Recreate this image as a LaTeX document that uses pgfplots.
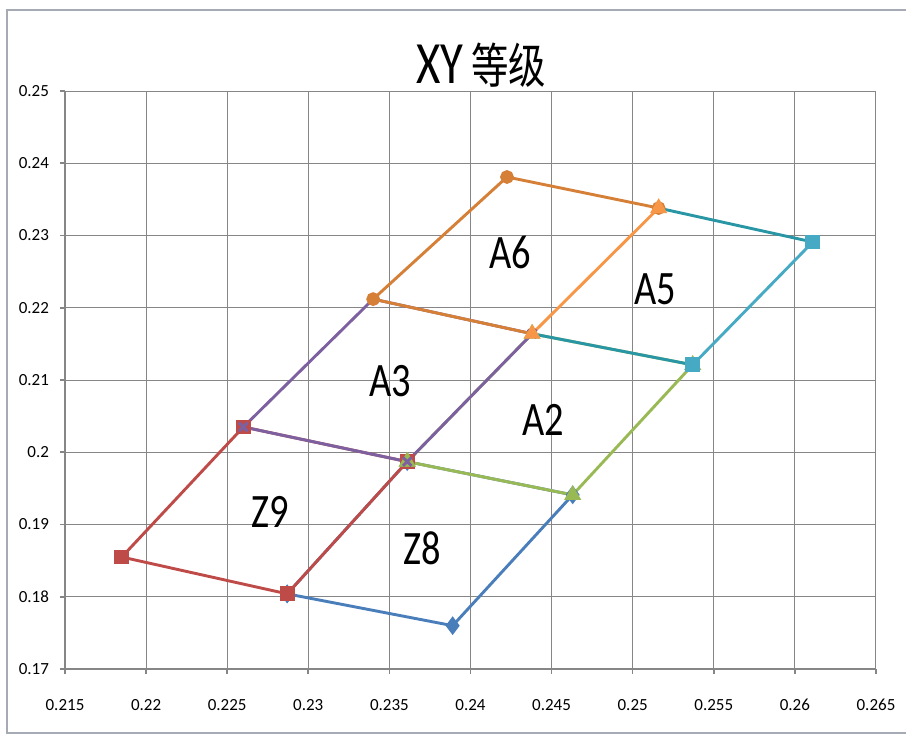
\documentclass[border=0pt]{standalone}
\usepackage{pgfplots}
\pgfplotsset{compat=1.18}
\usepackage{fontspec}
\setmainfont{Carlito}
\newfontfamily\cjk{Noto Sans CJK SC}
\definecolor{zeight}{RGB}{74,126,187}
\definecolor{znine}{RGB}{190,75,72}
\definecolor{atwo}{RGB}{152,185,84}
\definecolor{athree}{RGB}{125,96,160}
\definecolor{afive}{RGB}{70,170,197}
\definecolor{afivedk}{RGB}{40,150,165}
\definecolor{asix}{RGB}{213,127,55}
\definecolor{asixlt}{RGB}{247,150,70}
\definecolor{gridgray}{RGB}{134,134,134}

\begin{document}
\begin{tikzpicture}
\useasboundingbox (0,0) rectangle (453pt,368pt);
\draw[draw={rgb,255:red,165;green,170;blue,180},line width=0.8pt] (3.5pt,1.5pt) rectangle (470pt,363pt);
\begin{axis}[at={(32.5pt,33.5pt)},anchor=south west,scale only axis,width=405.5pt,height=289pt,
  xmin=0.215,xmax=0.265,ymin=0.17,ymax=0.25,
  xtick={0.215,0.22,0.225,0.23,0.235,0.24,0.245,0.25,0.255,0.26,0.265},
  xticklabels={0.215,0.22,0.225,0.23,0.235,0.24,0.245,0.25,0.255,0.26,0.265},
  ytick={0.17,0.18,0.19,0.2,0.21,0.22,0.23,0.24,0.25},
  yticklabels={0.17,0.18,0.19,0.2,0.21,0.22,0.23,0.24,0.25},
  scaled ticks=false,
  grid=major,grid style={gridgray,line width=0.5pt},
  axis line style={gridgray,line width=0.8pt},
  axis x line*=bottom,axis y line*=left,
  tick style={gridgray,line width=0.8pt},
  tick align=outside,major tick length=2.5pt,
  ticklabel style={font=\fontsize{8.5}{10}\selectfont},
  xticklabel style={yshift=-9pt},
  yticklabel style={xshift=-2pt},
  clip=false,
  every axis plot/.append style={line width=1.45pt}]
% Z8
\addplot[zeight,mark=diamond*,mark size=3.5pt] coordinates {(0.2287,0.1804) (0.2389,0.1760) (0.2463,0.1941) (0.2361,0.1987) (0.2287,0.1804)};
% Z9
\addplot[znine,mark=square*,mark size=3pt] coordinates {(0.2185,0.1855) (0.2287,0.1804) (0.2361,0.1987) (0.2260,0.2035) (0.2185,0.1855)};
% A2
\addplot[atwo,mark=triangle*,mark size=3.5pt] coordinates {(0.2361,0.1987) (0.2463,0.1941) (0.2537,0.2121) (0.2438,0.2164) (0.2361,0.1987)};
% A3
\addplot[athree,mark=x,mark size=3pt] coordinates {(0.2260,0.2035) (0.2361,0.1987) (0.2438,0.2164) (0.2340,0.2212) (0.2260,0.2035)};
% A5
\addplot[afivedk,no marks] coordinates {(0.2516,0.2338) (0.2611,0.2291)};
\addplot[afivedk,no marks] coordinates {(0.2438,0.2164) (0.2537,0.2121)};
\addplot[afive,mark=square*,mark size=3pt] coordinates {(0.2611,0.2291) (0.2537,0.2121)};
% A6
\addplot[asix,mark=*,mark size=2.7pt] coordinates {(0.2340,0.2212) (0.24225,0.2381) (0.2516,0.2338)};
\addplot[asix,no marks] coordinates {(0.2340,0.2212) (0.2438,0.2164)};
\addplot[asixlt,mark=triangle*,mark size=3.5pt] coordinates {(0.2438,0.2164) (0.2516,0.2338)};
\begin{scope}[every node/.style={font=\fontsize{24}{28}\selectfont}]
\node at (axis cs:0.24244,0.2277) {\scalebox{0.8}[1]{A6}};
\node at (axis cs:0.25137,0.2225) {\scalebox{0.8}[1]{A5}};
\node at (axis cs:0.23504,0.20986) {\scalebox{0.8}[1]{A3}};
\node at (axis cs:0.24447,0.20446) {\scalebox{0.8}[1]{A2}};
\node at (axis cs:0.22764,0.19173) {\scalebox{0.8}[1]{Z9}};
\node at (axis cs:0.23701,0.18675) {\scalebox{0.8}[1]{Z8}};
\end{scope}
\end{axis}
\node at (240.5pt,335.5pt) {\scalebox{0.78}[1]{\fontsize{30}{34}\selectfont XY\,{\cjk\fontsize{24}{28}\selectfont 等级}}};
\end{tikzpicture}
\end{document}
